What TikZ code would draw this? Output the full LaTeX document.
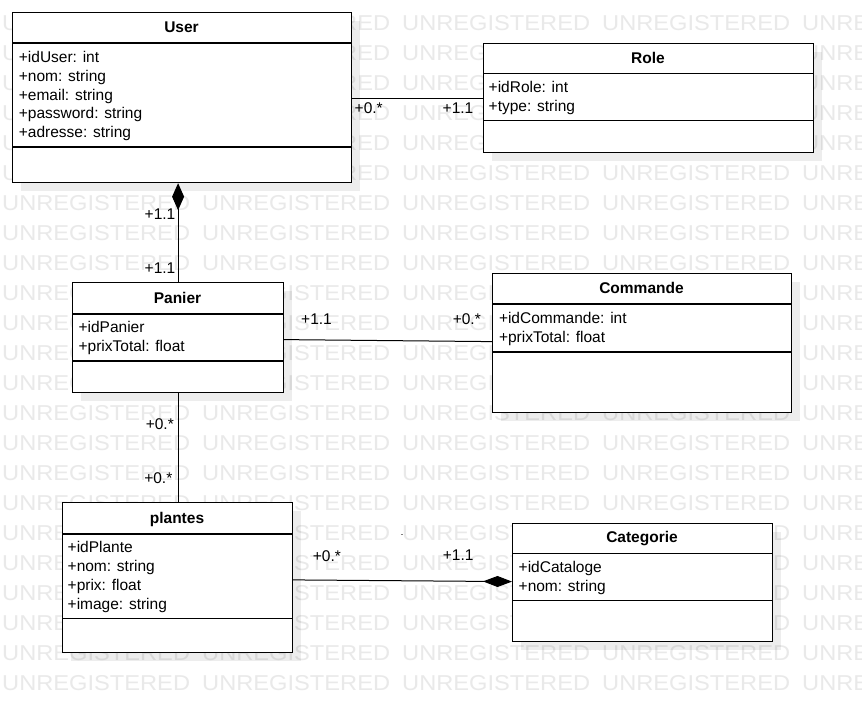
\documentclass[tikz,border=0pt]{standalone}
\usepackage{fontspec}
\setmainfont{Liberation Sans}
\usetikzlibrary{arrows.meta,shadows,calc}
\definecolor{wmgray}{gray}{0.915}
\tikzset{
  cls/.style={draw=black, fill=white, line width=1.2pt, inner sep=0pt, anchor=north west,
    drop shadow={shadow xshift=8pt, shadow yshift=-8pt, fill=black, opacity=0.07}},
  sepline/.style={line width=1.2pt},
  ttl/.style={font=\fontsize{15.5}{18}\selectfont\bfseries, anchor=base, inner sep=0pt},
  att/.style={font=\fontsize{15.5}{18}\selectfont, anchor=base west, inner sep=0pt},
  lbl/.style={font=\fontsize{15.5}{18}\selectfont, inner sep=0pt},
  conn/.style={line width=1pt},
  wmtext/.style={font=\fontsize{21.5}{22}\selectfont, text=wmgray, anchor=base west, inner sep=0pt}
}
\begin{document}
\begin{tikzpicture}[x=1pt,y=-1pt]
\useasboundingbox (0,0) rectangle (862,702);
\fill[white] (0,0) rectangle (862,702);
% watermark
\foreach \k in {0,...,22}{
  \foreach \j in {0,...,4}{
    \node[wmtext] (wm-\k-\j) at ({2+200*\j},{30.5+30*\k}) {\scalebox{1.1}[1]{UNREGISTERED}};
  }
}
% classes
\node[cls, minimum width=339pt, minimum height=170pt] (user) at (12,12) {};
\node[cls, minimum width=330pt, minimum height=109pt] (role) at (483,43) {};
\node[cls, minimum width=211pt, minimum height=110pt] (panier) at (72,282) {};
\node[cls, minimum width=299pt, minimum height=139pt] (commande) at (492,273) {};
\node[cls, minimum width=230pt, minimum height=150pt] (plantes) at (62,502) {};
\node[cls, minimum width=260pt, minimum height=118pt] (categorie) at (512,523) {};
% separators
\draw[sepline] (12,43) -- (351,43);
\draw[sepline] (12,147) -- (351,147);
\draw[sepline] (483,73.3) -- (813,73.3);
\draw[sepline] (483,120.3) -- (813,120.3);
\draw[sepline] (72,314) -- (283,314);
\draw[sepline] (72,361) -- (283,361);
\draw[sepline] (492,304) -- (791,304);
\draw[sepline] (492,352) -- (791,352);
\draw[sepline] (62,534) -- (292,534);
\draw[sepline] (62,618.7) -- (292,618.7);
\draw[sepline] (512,553.3) -- (772,553.3);
\draw[sepline] (512,600.7) -- (772,600.7);
% titles
\node[ttl] (user-t) at (181.5,32.5) {User};
\node[ttl] (role-t) at (648,63.3) {Role};
\node[ttl] (panier-t) at (177.5,303.3) {Panier};
\node[ttl] (commande-t) at (641.5,293.7) {Commande};
\node[ttl] (plantes-t) at (177,523.3) {plantes};
\node[ttl] (categorie-t) at (642,542.7) {Categorie};
% attributes
\node[att] (u1) at (18.7,62.5) {+idUser: int};
\node[att] (u2) at (18.7,81.3) {+nom: string};
\node[att] (u3) at (18.7,100.1) {+email: string};
\node[att] (u4) at (18.7,118.9) {+password: string};
\node[att] (u5) at (18.7,137.7) {+adresse: string};
\node[att] (r1) at (488.5,92.7) {+idRole: int};
\node[att] (r2) at (488.5,111.5) {+type: string};
\node[att] (p1) at (78.4,332.3) {+idPanier};
\node[att] (p2) at (78.4,351.5) {+prixTotal: float};
\node[att] (c1) at (498.8,323) {+idCommande: int};
\node[att] (c2) at (498.8,342.3) {+prixTotal: float};
\node[att] (pl1) at (67.5,552.3) {+idPlante};
\node[att] (pl2) at (67.5,571.3) {+nom: string};
\node[att] (pl3) at (67.5,590) {+prix: float};
\node[att] (pl4) at (67.5,609) {+image: string};
\node[att] (k1) at (518.5,572.7) {+idCataloge};
\node[att] (k2) at (518.5,591.7) {+nom: string};
% connectors
\draw[conn] (role.west) -- (role.west -| user.east);
\draw[conn, {Diamond[length=27pt,width=12pt]}-] (panier.north |- user.south) -- (panier.north);
\draw[conn] ($(panier.east)+(0,2)$) -- ($(commande.west)+(0,-1.5)$);
\draw[conn] (panier.south) -- (panier.south |- plantes.north);
\draw[conn, -{Diamond[length=29pt,width=11pt]}] ($(plantes.east)+(0,2.3)$) -- ($(categorie.west)+(0,-1)$);
% multiplicities
\node[lbl, anchor=base west] (ur1) at (354.5,113.3) {+0.*};
\node[lbl, anchor=base east] (ur2) at (473.5,113.3) {+1.1};
\node[lbl, anchor=base east] (up1) at (175.5,219.3) {+1.1};
\node[lbl, anchor=base east] (up2) at (175.5,273.3) {+1.1};
\node[lbl, anchor=base west] (pc1) at (301,324) {+1.1};
\node[lbl, anchor=base east] (pc2) at (481,324) {+0.*};
\node[lbl, anchor=base east] (pp1) at (174,429.3) {+0.*};
\node[lbl, anchor=base east] (pp2) at (172.5,483.3) {+0.*};
\node[lbl, anchor=base west] (pk1) at (312.7,561.7) {+0.*};
\node[lbl, anchor=base west] (pk2) at (442.7,560.7) {+1.1};
% small mark
\draw[gray, line width=0.8pt] (400.8,534.5) -- (403.4,534.5);
\end{tikzpicture}
\end{document}
